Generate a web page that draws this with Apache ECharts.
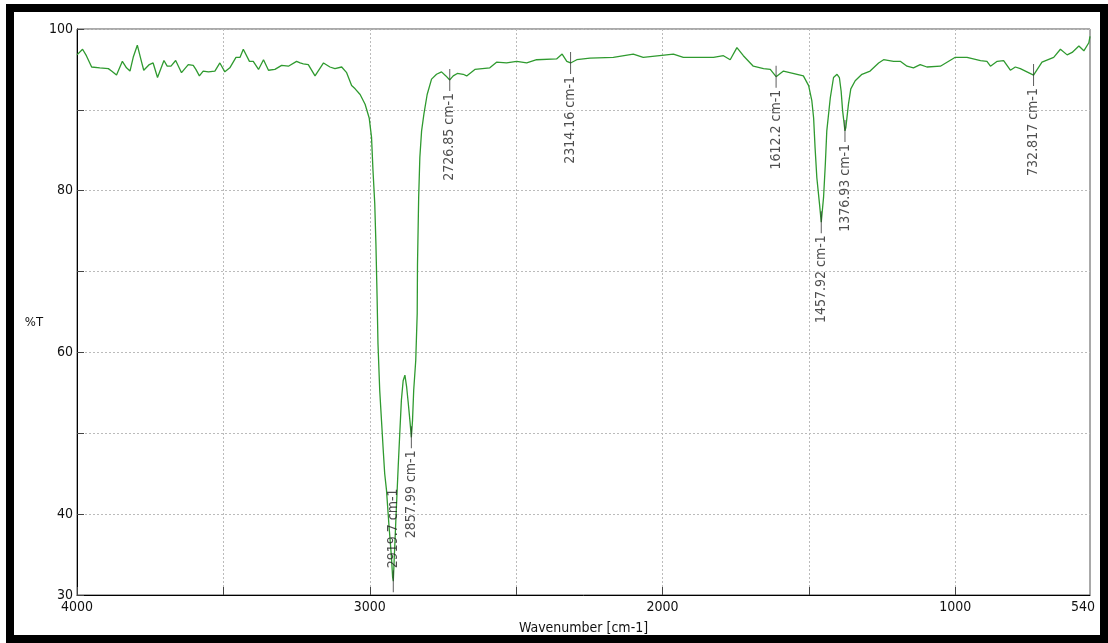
<!DOCTYPE html>
<html>
<head>
<meta charset="utf-8">
<script src="https://cdn.jsdelivr.net/npm/echarts@6/dist/echarts.min.js"></script>
<style>
  html, body { margin: 0; padding: 0; background: #fff; }
  #chart { position: absolute; left: 0; top: 0; width: 1108px; height: 643px; }
  #frame { position: absolute; left: 6px; top: 4px; width: 1102px; height: 639px; box-sizing: border-box; border: 8px solid #000; pointer-events: none; }
</style>
</head>
<body>
<div id="chart"></div>
<div id="frame"></div>
<script>
// ---- data ----
const wavenumbers = [
  4000, 3981, 3968, 3950, 3922, 3893, 3882, 3865, 3845, 3831, 3819, 3808, 3794, 3780, 3772, 3753, 3740, 3725,
  3703, 3692, 3679, 3663, 3643, 3620, 3603, 3594, 3582, 3569, 3551, 3529, 3512, 3495, 3478, 3457, 3443, 3432,
  3411, 3398, 3380, 3363, 3346, 3324, 3301, 3278, 3250, 3238, 3227, 3210, 3187, 3158, 3136, 3119, 3096, 3079,
  3062, 3050, 3033, 3016, 3002, 2994, 2989, 2983, 2979, 2975, 2972, 2966, 2960, 2954, 2949, 2943, 2934, 2926,
  2922, 2919.7, 2909, 2903, 2897, 2892, 2886, 2880, 2874, 2869, 2863, 2857.99, 2854, 2850, 2843, 2838, 2837,
  2833, 2829, 2823, 2815, 2804, 2789, 2772, 2755, 2740, 2726.85, 2715, 2701, 2681, 2669, 2641, 2590, 2567,
  2533, 2498, 2464, 2430, 2362, 2343, 2327, 2314.16, 2293, 2248, 2168, 2100, 2066, 1963, 1929, 1826, 1792,
  1769, 1746, 1724, 1690, 1655, 1632, 1612.2, 1587, 1519, 1501, 1490, 1484, 1479, 1473, 1464, 1457.92, 1450,
  1444, 1439, 1427, 1416, 1404, 1396, 1390, 1385, 1376.93, 1374, 1365, 1357, 1342, 1319, 1291, 1262, 1245,
  1211, 1188, 1165, 1143, 1120, 1097, 1051, 1000, 960, 914, 892, 880, 857, 835, 812, 795, 778, 732.817, 704,
  664, 641, 618, 601, 578, 561, 544, 540
];
const transmittance = [
  96.8, 97.5, 96.7, 95.3, 95.2, 95.1, 94.8, 94.3, 96.0, 95.2, 94.8, 96.5, 98.0, 96.0, 94.9, 95.6, 95.8, 94.0,
  96.1, 95.4, 95.4, 96.1, 94.6, 95.6, 95.5, 95.0, 94.2, 94.8, 94.7, 94.8, 95.8, 94.7, 95.2, 96.5, 96.5, 97.5,
  96.0, 96.0, 95.0, 96.2, 94.9, 95.0, 95.5, 95.4, 96.0, 95.8, 95.7, 95.6, 94.2, 95.8, 95.3, 95.1, 95.3, 94.6,
  93.0, 92.6, 91.9, 90.7, 89.0, 86.6, 82.5, 78.4, 73.4, 66.8, 61.1, 55.3, 51.6, 47.9, 45.0, 43.0, 38.4, 34.7,
  32.2, 31.7, 40.9, 45.8, 50.4, 54.1, 56.5, 57.2, 55.7, 53.9, 51.6, 49.5, 51.6, 55.3, 59.0, 64.8, 70.9,
  79.2, 84.1, 87.4, 89.5, 91.9, 93.8, 94.4, 94.7, 94.2, 93.7, 94.2, 94.5, 94.4, 94.2, 95.0, 95.2, 95.9,
  95.8, 96.0, 95.8, 96.2, 96.3, 96.9, 96.0, 95.8, 96.2, 96.4, 96.5, 96.9, 96.5, 96.9, 96.5, 96.5, 96.7,
  96.2, 97.7, 96.7, 95.4, 95.1, 95.0, 94.1, 94.8, 94.2, 93.0, 91.1, 89.0, 85.3, 81.6, 78.4, 76.1, 79.2,
  83.3, 87.4, 91.5, 94.0, 94.4, 94.0, 92.3, 89.9, 87.4, 87.8, 90.7, 92.6, 93.6, 94.4, 94.8, 95.8, 96.2,
  96.0, 96.0, 95.4, 95.2, 95.6, 95.3, 95.4, 96.5, 96.5, 96.1, 96.0, 95.4, 96.0, 96.1, 94.9, 95.3, 95.1, 94.3, 95.9,
  96.5, 97.5, 96.8, 97.1, 97.9, 97.3, 98.3, 99.1
];
const peakWavenumbers = [2919.7, 2857.99, 2726.85, 2314.16, 1612.2, 1457.92, 1376.93, 732.817];
const peakTransmittance = [31.7, 49.5, 93.7, 95.8, 94.1, 76.1, 87.4, 94.3];
const peakLabels = ['2919.7 cm-1', '2857.99 cm-1', '2726.85 cm-1', '2314.16 cm-1', '1612.2 cm-1', '1457.92 cm-1', '1376.93 cm-1', '732.817 cm-1'];
const xTickValues = [4000, 3500, 3000, 2500, 2000, 1500, 1000];
const xLabelValues = [4000, 3000, 2000, 1000, 540];
const yLabelValues = [100, 80, 60, 40, 30];

const FONT = '"Liberation Sans Narrow", "DejaVu Sans Condensed", "Liberation Sans", sans-serif';

const lineData = wavenumbers.map((w, i) => [w, transmittance[i]]);
const peakData = peakWavenumbers.map((w, i) => {
  const up = peakTransmittance[i] < 35;
  return {
    value: [w, peakTransmittance[i]],
    label: up
      ? { position: 'top', align: 'left', distance: 2 }
      : { position: 'bottom', align: 'right', distance: 2 }
  };
});

const chart = echarts.init(document.getElementById('chart'), null, { renderer: 'canvas' });
chart.setOption({
  backgroundColor: '#ffffff',
  animation: false,
  grid: { left: 77, right: 18, top: 29, bottom: 48, show: true, borderColor: '#555', borderWidth: 1 },
  xAxis: {
    type: 'value', inverse: true, min: 540, max: 4000,
    name: 'Wavenumber [cm-1]', nameLocation: 'middle', nameGap: 26,
    nameTextStyle: { fontFamily: FONT, fontSize: 14, color: '#111' },
    axisLine: { show: true, lineStyle: { color: '#000', width: 1 } },
    axisTick: { show: true, inside: true, length: 8, customValues: xTickValues, lineStyle: { color: '#444' } },
    axisLabel: {
      show: true, customValues: xLabelValues, margin: 5, fontFamily: FONT, fontSize: 14, color: '#111',
      formatter: v => (v === xLabelValues[xLabelValues.length - 1] ? '{r|' + v + '}' : String(v)),
      rich: { r: { fontFamily: FONT, fontSize: 14, color: '#111', padding: [0, 14, 0, 0] } }
    },
    splitLine: { show: true, lineStyle: { color: '#bbb', type: [2, 2], width: 1 } }
  },
  yAxis: {
    type: 'value', min: 30, max: 100, interval: 10,
    name: '%T', nameLocation: 'middle', nameRotate: 0, nameGap: 32,
    nameTextStyle: { fontFamily: FONT, fontSize: 13, color: '#111', verticalAlign: 'top', padding: [4, 0, 0, 0] },
    axisLine: { show: true, lineStyle: { color: '#000', width: 1 } },
    axisTick: { show: true, inside: true, length: 7, lineStyle: { color: '#444' } },
    axisLabel: {
      margin: 4, fontFamily: FONT, fontSize: 14, color: '#111',
      formatter: v => (yLabelValues.indexOf(v) >= 0 ? String(v) : '')
    },
    splitLine: { show: true, lineStyle: { color: '#bbb', type: [2, 2], width: 1 } }
  },
  series: [
    {
      type: 'line', data: lineData, showSymbol: false, symbol: 'none',
      lineStyle: { color: '#2f9a2f', width: 1.3 }, z: 3
    },
    {
      type: 'scatter', data: peakData,
      symbol: 'rect', symbolSize: [1, 22],
      itemStyle: { color: '#333' }, z: 4,
      label: {
        show: true, rotate: 90, verticalAlign: 'middle',
        fontFamily: FONT, fontSize: 14, color: '#222',
        formatter: p => peakLabels[p.dataIndex]
      }
    }
  ]
});
</script>
</body>
</html>
